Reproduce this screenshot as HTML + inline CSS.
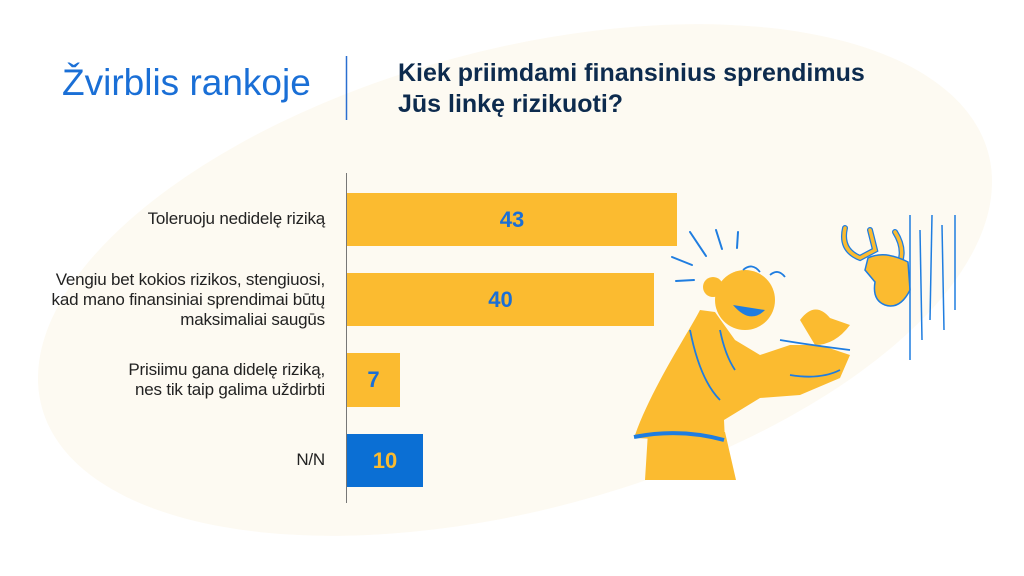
<!DOCTYPE html>
<html><head><meta charset="utf-8"><style>
html,body{margin:0;padding:0;background:#fff;width:1024px;height:576px;overflow:hidden;}
#c{position:relative;width:1024px;height:576px;overflow:hidden;font-family:"Liberation Sans",sans-serif;}
.t{position:absolute;white-space:nowrap;}
.lab{position:absolute;right:699px;text-align:right;font-size:17px;line-height:20px;color:#222;white-space:nowrap;letter-spacing:-0.2px;}
.bar{position:absolute;left:347px;display:flex;align-items:center;justify-content:center;font-weight:bold;font-size:22px;}
</style></head><body><div id="c">
<svg width="1024" height="576" style="position:absolute;left:0;top:0">
<ellipse cx="515" cy="280" rx="490" ry="230" transform="rotate(-15 515 280)" fill="#fdfaf2"/>
<line x1="346.5" y1="56" x2="346.5" y2="120" stroke="#2a6fd0" stroke-width="1.5"/>
<line x1="346.5" y1="173" x2="346.5" y2="503" stroke="#777" stroke-width="1"/>
<g stroke="#1f7de0" stroke-width="2" fill="none" stroke-linecap="round">
<line x1="690" y1="232" x2="706" y2="256"/><line x1="716" y1="230" x2="722" y2="249"/><line x1="738" y1="232" x2="737" y2="248"/>
<line x1="672" y1="257" x2="692" y2="265"/><line x1="676" y1="281" x2="694" y2="280"/>
</g>
<path d="M700 310 C690 330 650 390 634 438 L725 442 L724 420 L760 398 L800 395 L840 378 L850 355 L820 345 L790 345 L760 355 L735 340 L715 312 Z" fill="#fbbb30"/>
<circle cx="745" cy="300" r="30" fill="#fbbb30"/>
<circle cx="713" cy="287" r="10" fill="#fbbb30"/>
<path d="M733 305 Q750 325 765 310 Z" fill="#1f7de0"/>
<path d="M648 432 L725 432 L736 480 L645 480 Z" fill="#fbbb30"/>
<path d="M634 437 Q680 428 724 440" stroke="#1f7de0" stroke-width="4" fill="none"/>
<path d="M800 320 Q815 300 830 318 L850 325 Q835 345 815 345 Z" fill="#fbbb30"/>
<path d="M743 270 Q752 262 760 272 M770 275 Q778 268 785 277 M720 330 Q725 355 735 370 M690 330 Q700 380 720 400 M780 340 Q810 345 850 350 M790 375 Q820 380 840 370" stroke="#1f7de0" stroke-width="1.8" fill="none"/>
<path d="M845 228 Q840 250 860 258 L875 250 L870 230 M895 232 Q905 248 900 262" stroke="#1f7de0" stroke-width="6" fill="none" stroke-linecap="round"/>
<path d="M845 228 Q840 250 860 258 L875 250 L870 230 M895 232 Q905 248 900 262" stroke="#fbbb30" stroke-width="3.5" fill="none" stroke-linecap="round"/>
<path d="M868 258 Q885 250 908 262 L910 290 Q900 310 885 305 Q872 300 875 282 L865 270 Z" fill="#fbbb30" stroke="#1f7de0" stroke-width="1.5"/>
<g stroke="#1f7de0" stroke-width="1.5">
<line x1="910" y1="215" x2="910" y2="360"/><line x1="932" y1="215" x2="930" y2="320"/><line x1="955" y1="215" x2="955" y2="310"/><line x1="920" y1="230" x2="922" y2="340"/><line x1="942" y1="225" x2="944" y2="330"/>
</g>
</svg>
<div class="t" style="left:62px;top:62px;font-size:37px;color:#1a6fd6;">Žvirblis rankoje</div>
<div class="t" style="left:398px;top:58px;font-size:25px;line-height:31px;font-weight:bold;color:#0d2b4e;">Kiek priimdami finansinius sprendimus<br>Jūs linkę rizikuoti?</div>
<div class="lab" style="top:209px;">Toleruoju nedidelę riziką</div>
<div class="lab" style="top:270px;">Vengiu bet kokios rizikos, stengiuosi,<br>kad mano finansiniai sprendimai būtų<br>maksimaliai saugūs</div>
<div class="lab" style="top:360px;">Prisiimu gana didelę riziką,<br>nes tik taip galima uždirbti</div>
<div class="lab" style="top:450px;">N/N</div>
<div class="bar" style="top:193px;width:330px;height:53px;background:#fbbb30;color:#1a6fd6;">43</div>
<div class="bar" style="top:273px;width:307px;height:53px;background:#fbbb30;color:#1a6fd6;">40</div>
<div class="bar" style="top:353px;width:53px;height:54px;background:#fbbb30;color:#1a6fd6;">7</div>
<div class="bar" style="top:434px;width:76px;height:53px;background:#0b6fd4;color:#fbbb30;">10</div>
</div></body></html>
